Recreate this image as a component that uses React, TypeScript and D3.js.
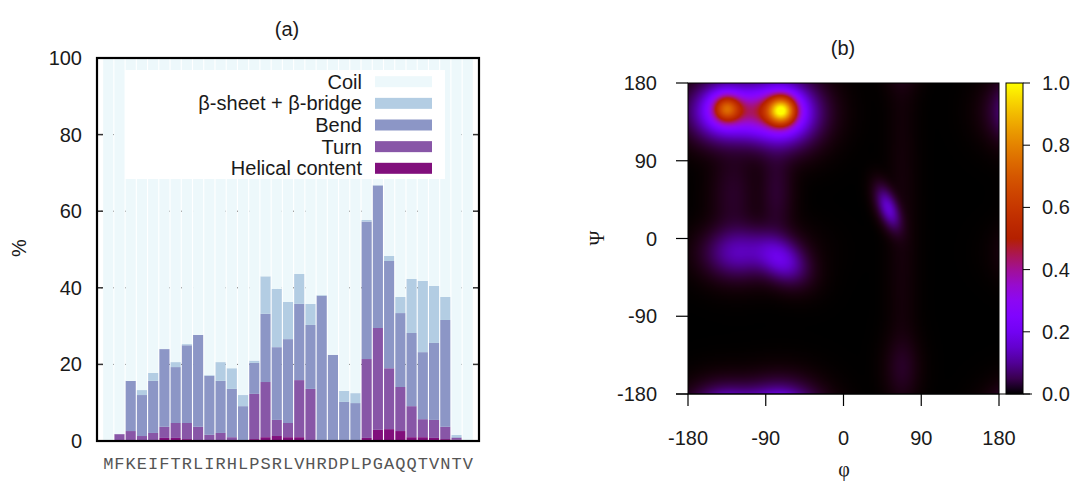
import { useMemo } from "react";
import * as d3 from "d3";

// panel (a): secondary structure per residue, percent
const residues = "MFKEIFTRLIRHLPSRLVHRDPLPGAQQTVNTV".split("");
const helix = [0, 0, 0, 0, 0, 0.8, 0.8, 0.5, 0, 0, 0, 0, 0, 0.5, 1, 1.3, 1, 1, 0, 0, 0, 0, 0, 0.8, 2.9, 3.1, 2.6, 1, 1, 0.8, 0.5, 0.3, 0];
const turn = [0, 1.8, 2.6, 1.3, 2.1, 2.9, 3.9, 4.2, 3.7, 1.6, 2.1, 1.0, 0, 11.8, 14.4, 4.2, 3.7, 14.9, 13.6, 0, 0, 0, 0, 20.6, 26.6, 15.9, 11.5, 8.1, 4.7, 4.7, 3.2, 0.5, 0];
const bend = [0, 0, 13.1, 10.7, 13.6, 20.3, 14.6, 20.3, 24, 15.4, 13.6, 12.6, 9.1, 8.1, 17.8, 19, 21.9, 19.9, 16.7, 37.9, 22.5, 10.2, 9.9, 35.9, 37.2, 28, 19.3, 19.1, 17.5, 20.1, 27.9, 0.2, 0];
const sheet = [0, 0, 0, 1.3, 2.1, 0, 1.3, 0.3, 0, 0.2, 4.9, 5.4, 2.9, 0.6, 9.8, 15.2, 9.7, 7.8, 5.5, 0.2, 0, 2.9, 2.6, 0.4, 0.2, 1.3, 4.2, 14.1, 18.6, 14.9, 6, 0.6, 0];

const seriesKeys = ["helix", "turn", "bend", "sheet", "coil"];
const seriesNames = ["Helical content", "Turn", "Bend", "β-sheet + β-bridge", "Coil"];
const seriesColors = ["#810f7c", "#8856a7", "#8c96c6", "#b3cde3", "#edf8fb"];
const pctTicks = [0, 20, 40, 60, 80, 100];

// panel (b): Ramachandran density, peaks
const peakPhi = [-136, -138, -72, -74, -105, -127, -72, -100, -78, -128, 52, 68, 68];
const peakPsi = [151, 148, 149, 146, 148, -17, -25, -15, 55, 50, 35, -150, 0];
const peakAmp = [0.4, 0.3, 0.62, 0.38, 0.12, 0.09, 0.15, 0.05, 0.03, 0.025, 0.15, 0.02, 0.006];
const peakSdA = [11, 24, 12, 26, 20, 22, 20, 30, 12, 16, 16, 12, 10];
const peakSdB = [11, 21, 12, 23, 16, 18, 14, 18, 35, 35, 7, 22, 120];
const peakTilt = [0, 0, 0, 0, 0, 0, -38, 0, 0, 0, -69, 0, 0];
const angleTicks = [-180, -90, 0, 90, 180];
const cbTicks = [0, 0.2, 0.4, 0.6, 0.8, 1.0];

const FONT = "Liberation Sans, Arial, sans-serif";

// gnuplot default palette (rgbformulae 7,5,15)
const palette = (t: number) => {
  const v = Math.max(0, Math.min(1, t));
  const r = Math.sqrt(v);
  const g = v * v * v;
  const b = Math.max(0, Math.sin(2 * Math.PI * v));
  return d3.rgb(r * 255, g * 255, b * 255).formatHex();
};
const heatColor = d3.scaleSequential(palette).domain([0, 1]);

function density(phi: number, psi: number) {
  let s = 0;
  for (let k = 0; k < peakPhi.length; k++) {
    const t = (peakTilt[k] * Math.PI) / 180;
    const c = Math.cos(t), sn = Math.sin(t);
    for (const dx of [-360, 0, 360]) {
      for (const dy of [-360, 0, 360]) {
        const u = phi - (peakPhi[k] + dx);
        const w = psi - (peakPsi[k] + dy);
        const a = u * c + w * sn;
        const b = -u * sn + w * c;
        s += peakAmp[k] * Math.exp(-(a * a) / (2 * peakSdA[k] ** 2) - (b * b) / (2 * peakSdB[k] ** 2));
      }
    }
  }
  return s;
}

function BarPanel() {
  const idx = d3.range(residues.length);
  const x = d3.scaleBand<number>().domain(idx).range([97, 479]).paddingInner(0.1).paddingOuter(0.55);
  const y = d3.scaleLinear().domain([0, 100]).range([441, 58]);
  const rows = idx.map((i) => ({
    helix: helix[i],
    turn: turn[i],
    bend: bend[i],
    sheet: sheet[i],
    coil: 100 - helix[i] - turn[i] - bend[i] - sheet[i],
  }));
  const stacked = d3.stack<any>().keys(seriesKeys)(rows);
  const legendRows = [4, 3, 2, 1, 0];

  return (
    <g fontFamily={FONT} fontSize={20} fill="#1a1a1a">
      <text x={287} y={29} textAnchor="middle" dominantBaseline="central">(a)</text>
      <text transform="translate(19,248) rotate(-90)" textAnchor="middle" dominantBaseline="central">%</text>
      {pctTicks.slice(1, -1).map((t) => (
        <line key={t} x1={97} x2={479} y1={y(t)} y2={y(t)} stroke="#777" strokeWidth={1} strokeDasharray="1,3" />
      ))}
      {stacked.map((s, k) => (
        <g key={s.key} fill={seriesColors[k]}>
          {s.map((d, i) => (
            <rect key={i} x={x(i)} width={x.bandwidth()} y={y(d[1])} height={Math.max(0, y(d[0]) - y(d[1]))} />
          ))}
        </g>
      ))}
      <rect x={125} y={70} width={320} height={109} fill="#fff" />
      {legendRows.map((k, j) => {
        const cy = 81.7 + j * 21.65;
        return (
          <g key={k}>
            <text x={362} y={cy} textAnchor="end" dominantBaseline="central">{seriesNames[k]}</text>
            <rect x={375} y={cy - 5.5} width={57} height={11} fill={seriesColors[k]} />
          </g>
        );
      })}
      {pctTicks.map((t) => (
        <g key={t}>
          <text x={82} y={y(t)} textAnchor="end" dominantBaseline="central">{t}</text>
          <line x1={97} x2={103} y1={y(t)} y2={y(t)} stroke="#333" strokeWidth={1.5} />
          <line x1={473} x2={479} y1={y(t)} y2={y(t)} stroke="#333" strokeWidth={1.5} />
        </g>
      ))}
      <rect x={97} y={58} width={382} height={383} fill="none" stroke="#000" strokeWidth={2.2} />
      {idx.map((i) => (
        <text key={i} x={x(i)! + x.bandwidth() / 2} y={468.5} textAnchor="middle" fontFamily="Liberation Mono, monospace" fontSize={17} fill="#555">{residues[i]}</text>
      ))}
    </g>
  );
}

function MapPanel() {
  const xPhi = d3.scaleLinear().domain([-180, 180]).range([688, 999]);
  const yPsi = d3.scaleLinear().domain([-180, 180]).range([394, 83]);
  const yBar = d3.scaleLinear().domain([0, 1]).range([394, 83]);

  const heatUrl = useMemo(() => {
    const n = 240;
    const canvas = document.createElement("canvas");
    canvas.width = n;
    canvas.height = n;
    const ctx = canvas.getContext("2d")!;
    const img = ctx.createImageData(n, n);
    const phiAt = d3.scaleLinear().domain([0, n - 1]).range([-180, 180]);
    const psiAt = d3.scaleLinear().domain([0, n - 1]).range([180, -180]);
    for (let j = 0; j < n; j++) {
      for (let i = 0; i < n; i++) {
        const c = d3.rgb(heatColor(Math.min(1, density(phiAt(i), psiAt(j)))));
        const p = (j * n + i) * 4;
        img.data[p] = c.r;
        img.data[p + 1] = c.g;
        img.data[p + 2] = c.b;
        img.data[p + 3] = 255;
      }
    }
    ctx.putImageData(img, 0, 0);
    return canvas.toDataURL();
  }, []);

  const stops = d3.range(0, 1.0001, 0.05);

  return (
    <g fontFamily={FONT} fontSize={20} fill="#1a1a1a">
      <defs>
        <linearGradient id="cb" x1="0" y1="1" x2="0" y2="0">
          {stops.map((s) => (
            <stop key={s} offset={s} stopColor={heatColor(s)} />
          ))}
        </linearGradient>
      </defs>
      <text x={843} y={48} textAnchor="middle" dominantBaseline="central">(b)</text>
      <image href={heatUrl} x={688} y={83} width={311} height={311} preserveAspectRatio="none" />
      <rect x={688} y={83} width={311} height={311} fill="none" stroke="#000" strokeWidth={1} />
      <line x1={676} x2={1032} y1={394} y2={394} stroke="#000" strokeWidth={1.2} />
      {angleTicks.map((t) => (
        <g key={"x" + t}>
          <line x1={xPhi(t)} x2={xPhi(t)} y1={394} y2={406} stroke="#000" strokeWidth={1.2} />
          <text x={xPhi(t)} y={445} textAnchor="middle">{t}</text>
        </g>
      ))}
      {angleTicks.map((t) => (
        <g key={"y" + t}>
          <line x1={676} x2={688} y1={yPsi(t)} y2={yPsi(t)} stroke="#000" strokeWidth={1.2} />
          <text x={657} y={yPsi(t)} textAnchor="end" dominantBaseline="central">{t}</text>
        </g>
      ))}
      <text x={844} y={469} textAnchor="middle" dominantBaseline="central" fontFamily="Liberation Serif, serif">φ</text>
      <text transform="translate(597,238) rotate(-90)" textAnchor="middle" dominantBaseline="central" fontFamily="Liberation Serif, serif">Ψ</text>
      <rect x={1006} y={83} width={17} height={311} fill="url(#cb)" stroke="#000" strokeWidth={1} />
      {cbTicks.map((t) => (
        <g key={"c" + t}>
          <line x1={1023} x2={1030} y1={yBar(t)} y2={yBar(t)} stroke="#000" strokeWidth={1} />
          <text x={1042} y={yBar(t)} dominantBaseline="central">{d3.format(".1f")(t)}</text>
        </g>
      ))}
    </g>
  );
}

export default function App() {
  return (
    <svg width={1078} height={481} style={{ position: "absolute", left: 0, top: 0, background: "#fff" }}>
      <BarPanel />
      <MapPanel />
    </svg>
  );
}
